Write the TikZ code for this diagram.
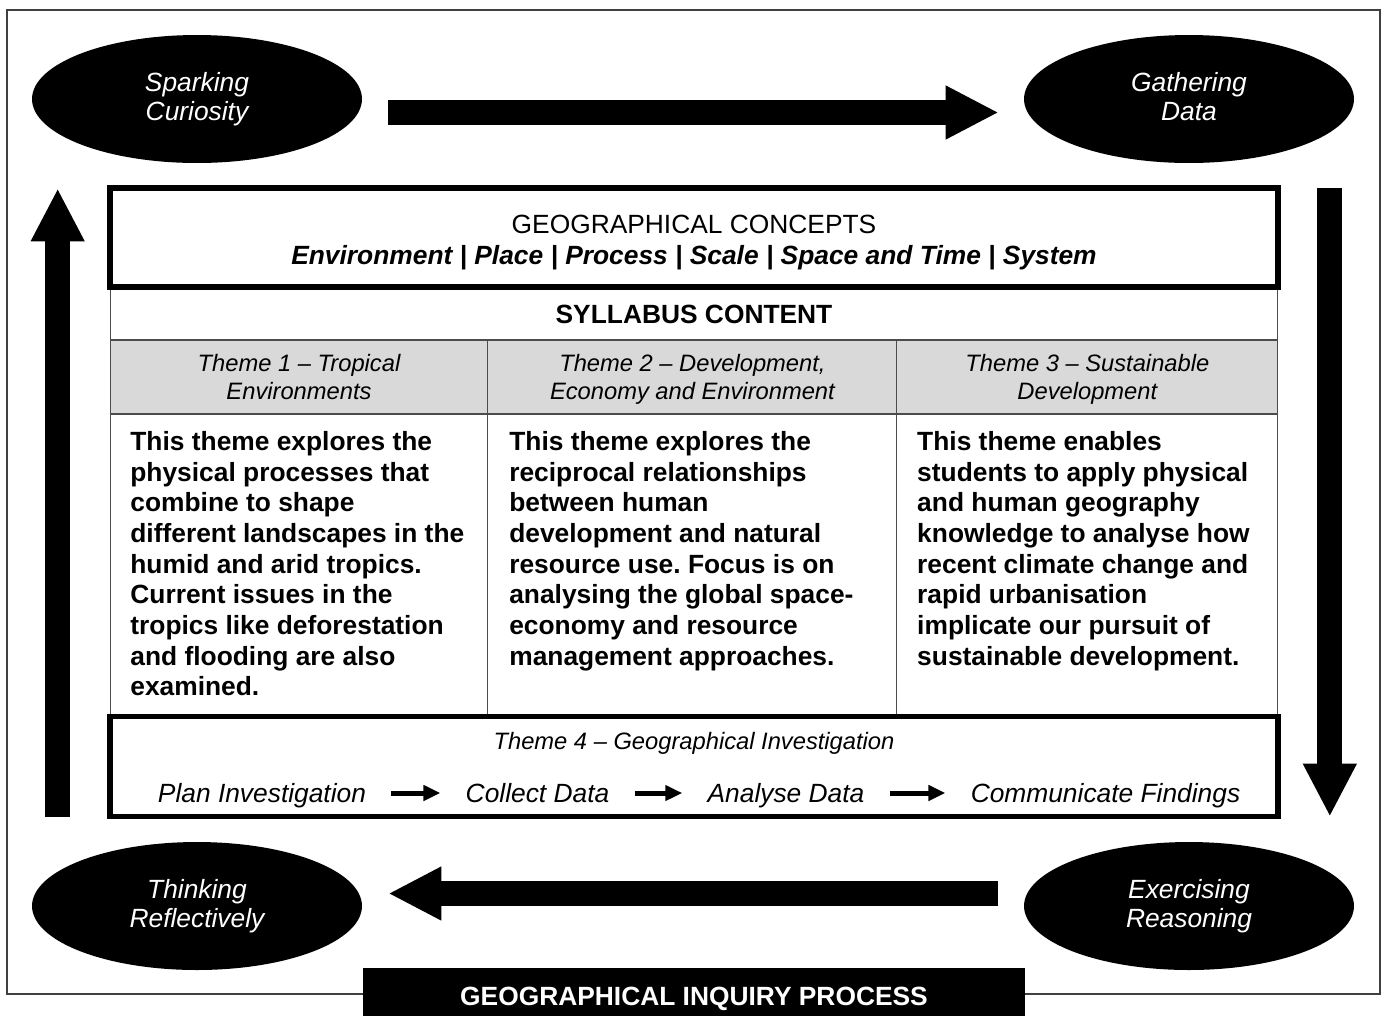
\documentclass[tikz,border=0pt]{standalone}
\usepackage{fontspec}
\setmainfont{Liberation Sans}
\usetikzlibrary{positioning}
\usetikzlibrary{shapes.geometric}
\usetikzlibrary{arrows.meta}
\usetikzlibrary{calc}

\definecolor{headgray}{gray}{0.85}
\newcommand{\bigfont}{\fontsize{15}{17.45}\selectfont}
\newcommand{\smallfont}{\fontsize{13.5}{15.9}\selectfont}
\newcommand{\topstrut}[1]{\rule{0pt}{#1}}
\frenchspacing

\tikzset{
 stage/.style={ellipse,fill=black,text=white,minimum width=6.6cm,minimum height=2.56cm,inner sep=0pt,align=center,font=\fontsize{15}{16.4}\selectfont\itshape},
 bigarrow/.style={line width=0.5cm,-{Triangle[width=1cm,length=1.06cm]}},
 cell/.style={draw=black!70,line width=0.6pt,inner sep=0pt,outer sep=0pt},
 thickbox/.style={draw,line width=0.11cm,inner sep=0pt,minimum width=23.36cm},
 bodytext/.style={anchor=north west,align=left,inner sep=0pt,font=\bigfont\bfseries\frenchspacing},
 headtext/.style={align=center,font=\smallfont\itshape},
 proc/.style={inner xsep=0.5cm,inner ysep=0pt,text height=14pt,text depth=3pt,font=\bigfont\itshape},
 procarrow/.style={line width=0.1cm,-{Triangle[width=0.3cm,length=0.34cm]}}
}

\begin{document}
\begin{tikzpicture}[x=0.02cm,y=-0.02cm]
 \useasboundingbox (0,0) rectangle (1385,1015);
 \fill[white] (0,0) rectangle (1385,1015);
 \draw[black!75,line width=0.04cm] (7,10) rectangle (1380,994);

 \node[stage] (sc) at (197,99) {\topstrut{12.6pt}Sparking\\Curiosity\strut};
 \node[stage] (gd) at (1189,99) {\topstrut{12.6pt}Gathering\\Data\strut};
 \node[stage] (er) at (1189,906) {\topstrut{12.6pt}Exercising\\Reasoning\strut};
 \node[stage] (tr) at (197,906) {\topstrut{12.6pt}Thinking\\Reflectively\strut};

 \draw[bigarrow] ($(sc.east)+(26,13.5)$) -- ($(gd.west)+(-25,13.5)$);
 \draw[bigarrow] ($(gd.east |- gd.south)+(-24.5,25)$) -- ($(er.east |- er.north)+(-24.5,-25)$);
 \draw[bigarrow] ($(er.west)+(-26,-12.5)$) -- ($(tr.east)+(26,-12.5)$);
 \draw[bigarrow] ($(tr.west |- tr.north)+(26,-25)$) -- ($(sc.west |- sc.south)+(26,25)$);

 \node[cell,minimum width=23.36cm,minimum height=1.04cm,font=\bigfont\bfseries] (syl) at (694,314.5) {SYLLABUS CONTENT};
 \node[cell,fill=headgray,minimum width=7.56cm,minimum height=1.48cm,headtext] (h1) at (299,377) {\topstrut{14.5pt}Theme 1 \textendash{} Tropical\\Environments\strut};
 \node[cell,fill=headgray,minimum width=8.18cm,minimum height=1.48cm,headtext,right=0pt of h1] (h2) {\topstrut{14.5pt}Theme 2 \textendash{} Development,\\Economy and Environment\strut};
 \node[cell,fill=headgray,minimum width=7.62cm,minimum height=1.48cm,headtext,right=0pt of h2] (h3) {\topstrut{14.5pt}Theme 3 \textendash{} Sustainable\\Development\strut};
 \node[cell,minimum width=7.56cm,minimum height=6.04cm,below=0pt of h1] (b1) {};
 \node[cell,minimum width=8.18cm,minimum height=6.04cm,below=0pt of h2] (b2) {};
 \node[cell,minimum width=7.62cm,minimum height=6.04cm,below=0pt of h3] (b3) {};

 \node[bodytext] (b1t) at ($(b1.north west)+(20,17)$) {This theme explores the\\physical processes that\\combine to shape\\different landscapes in the\\humid and arid tropics.\\Current issues in the\\tropics like deforestation\\and flooding are also\\examined.};
 \node[bodytext] (b2t) at ($(b2.north west)+(21,17)$) {This theme explores the\\reciprocal relationships\\between human\\development and natural\\resource use. Focus is on\\analysing the global space-\\economy and resource\\management approaches.};
 \node[bodytext] (b3t) at ($(b3.north west)+(20,17)$) {This theme enables\\students to apply physical\\and human geography\\knowledge to analyse how\\recent climate change and\\rapid urbanisation\\implicate our pursuit of\\sustainable development.};

 \node[thickbox,minimum height=1.98cm] (gc) at (694,237.5) {};
 \node[align=center,font=\fontsize{15}{17.6}\selectfont] (gct) at (694,242.5) {GEOGRAPHICAL CONCEPTS\\\textbf{\textit{Environment | Place | Process | Scale | Space and Time | System}}};
 \node[thickbox,minimum height=2cm] (t4) at (694,766.5) {};
 \node[headtext] (t4h) at (694,743) {Theme 4 \textendash{} Geographical Investigation};

 \node[proc] (pi) at (262,793) {Plan Investigation};
 \node[proc] (cd) at (537.5,793) {Collect Data};
 \node[proc] (ad) at (786,793) {Analyse Data};
 \node[proc] (cf) at (1105.5,793) {Communicate Findings};
 \draw[procarrow] (pi) -- (cd);
 \draw[procarrow] (cd) -- (ad);
 \draw[procarrow] (ad) -- (cf);

 \node[fill=black,text=white,minimum width=13.24cm,minimum height=1.24cm,font=\bigfont\bfseries] (gip) at (694,999) {GEOGRAPHICAL INQUIRY PROCESS};
\end{tikzpicture}
\end{document}
